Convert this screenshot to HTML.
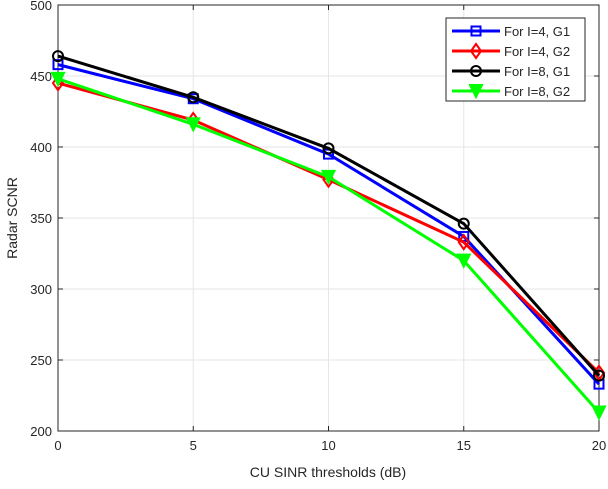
<!DOCTYPE html>
<html><head><meta charset="utf-8"><style>
body{margin:0;background:#fff;font-family:"Liberation Sans",sans-serif}
svg text{font-family:"Liberation Sans",sans-serif;fill:#262626}
</style></head><body>
<svg width="608" height="484">
<g id="grid"></g>
<g id="axes"></g>
<g id="series"></g>
<text x="328" y="477" font-size="14" text-anchor="middle">CU SINR thresholds (dB)</text>
<text transform="translate(17,218) rotate(-90)" font-size="14" text-anchor="middle">Radar SCNR</text>
<g id="legend"></g>
</svg>
<script>
const xCats=[0,5,10,15,20];
const xTicks=[0,5,10,15,20];
const yTicks=[200,250,300,350,400,450,500];
const seriesNames=["For I=4, G1","For I=4, G2","For I=8, G1","For I=8, G2"];
const blueVals=[458,434,395,337,233];
const redVals=[445,419,377,333,241];
const blackVals=[464,435,399,346,239];
const greenVals=[448,416,379,320,213];
const L=58,R=599,T=5,B=431;
const xs=v=>L+(v-0)/(20-0)*(R-L);
const ys=v=>B-(v-200)/(300)*(B-T);
const NS="http://www.w3.org/2000/svg";
function mk(tag,attrs,parent){const e=document.createElementNS(NS,tag);for(const k in attrs)e.setAttribute(k,attrs[k]);parent.appendChild(e);return e;}
const grid=document.getElementById('grid'),axes=document.getElementById('axes'),ser=document.getElementById('series'),leg=document.getElementById('legend');
xTicks.forEach(t=>{const x=xs(t);
 const g=mk('line',{x1:x,x2:x,y1:T,y2:B,stroke:'#e6e6e6'},grid);
 
 mk('line',{x1:x,x2:x,y1:B,y2:B-5,stroke:'#262626'},axes);mk('line',{x1:x,x2:x,y1:T,y2:T+5,stroke:'#262626'},axes);
 const tx=mk('text',{x:x,y:B+19,'font-size':13,'text-anchor':'middle'},axes);tx.textContent=t;
 });
yTicks.forEach(t=>{const y=ys(t);
 const g=mk('line',{x1:L,x2:R,y1:y,y2:y,stroke:'#e6e6e6'},grid);
 
 mk('line',{x1:L,x2:L+5,y1:y,y2:y,stroke:'#262626'},axes);mk('line',{x1:R,x2:R-5,y1:y,y2:y,stroke:'#262626'},axes);
 const tx=mk('text',{x:L-6,y:y+5,'font-size':13,'text-anchor':'end'},axes);tx.textContent=t;
 });
mk('rect',{x:L,y:T,width:R-L,height:B-T,fill:'none',stroke:'#262626'},axes);
function marker(type,x,y,c,p){
 if(type==='s')return mk('rect',{x:x-4.5,y:y-4.5,width:9,height:9,fill:'none',stroke:c,'stroke-width':2},p);
 if(type==='d')return mk('polygon',{points:`${x},${y-7} ${x+5},${y} ${x},${y+7} ${x-5},${y}`,fill:'none',stroke:c,'stroke-width':2},p);
 if(type==='o')return mk('circle',{cx:x,cy:y,r:5,fill:'none',stroke:c,'stroke-width':2},p);
 return mk('polygon',{points:`${x-6},${y-6} ${x+6},${y-6} ${x},${y+6}`,fill:c,stroke:c,'stroke-width':2},p);
}
const defs=[[blueVals,'#0000ff','s'],[redVals,'#ff0000','d'],[blackVals,'#000000','o'],[greenVals,'#00ff00','v']];
defs.forEach(([vals,c,m],i)=>{
 const g=mk('g',{},ser);
 const pl=mk('polyline',{points:vals.map((v,j)=>xs(xCats[j])+','+ys(v)).join(' '),fill:'none',stroke:c,'stroke-width':3},g);
 
 vals.forEach((v,j)=>{const mm=marker(m,xs(xCats[j]),ys(v),c,g);
  });
});
mk('rect',{x:446,y:18,width:139,height:83,fill:'#fff',stroke:'#262626'},leg);
defs.forEach(([vals,c,m],i)=>{const y=31+i*20;
 const g=mk('g',{},leg);
 mk('line',{x1:452,x2:500,y1:y,y2:y,stroke:c,'stroke-width':3},g);marker(m,476,y,c,g);
 const t=mk('text',{x:504,y:y+5,'font-size':13},g);t.textContent=seriesNames[i];});
</script>
</body></html>
